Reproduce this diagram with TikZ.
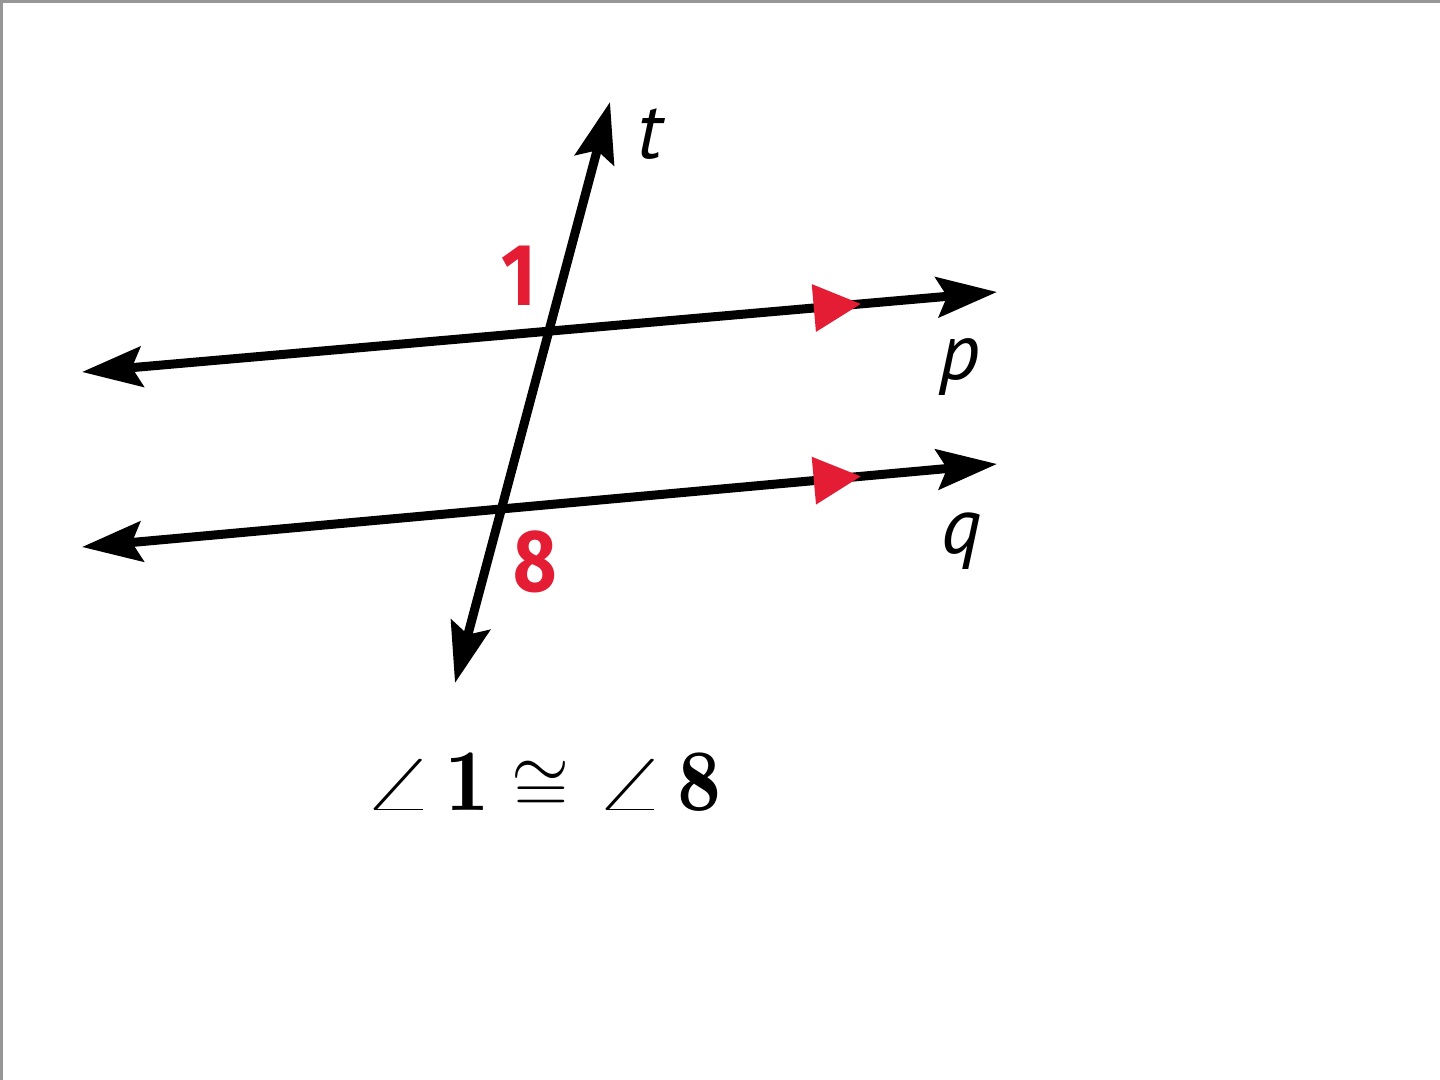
\documentclass[tikz,border=0pt]{standalone}
\usepackage{fontspec}
\usepackage{graphicx}
\usetikzlibrary{arrows.meta}
\newfontfamily\labfont{PT Sans}
\newfontfamily\numfont{Fira Sans}
\definecolor{myred}{RGB}{228,28,52}
\definecolor{frame}{RGB}{150,150,150}
\newcommand{\bigang}{\scalebox{1.95}[1.1]{$\angle$}}
\begin{document}
\begin{tikzpicture}[x=0.5pt,y=-0.5pt,
  lineof/.style={line width=4.5pt, black, {Stealth[length=30pt,width=20pt,inset=5pt]}-{Stealth[length=30pt,width=20pt,inset=5pt]}},
  redmark/.style={fill=myred},
  varlabel/.style={font=\labfont\itshape\fontsize{40}{40}\selectfont, inner sep=0pt},
  anglabel/.style={font=\numfont\bfseries\fontsize{44}{44}\selectfont, text=myred, inner sep=0pt, xscale=0.85},
  caption/.style={font=\fontsize{44}{44}\selectfont, inner sep=0pt}]
\useasboundingbox (0,0) rectangle (1440,1080);
\fill[white] (0,0) rectangle (1440,1080);
\draw[frame, line width=1.5pt] (1.5,1080) -- (1.5,1.5) -- (1440,1.5);
% lines
\coordinate (pL) at (82,372);
\coordinate (pR) at (997,292);
\coordinate (qL) at (82,547);
\coordinate (qR) at (997,464);
\coordinate (tB) at (455,683);
\coordinate (tT) at (610,102);
\draw[lineof] (pL) -- (pR);
\draw[lineof] (qL) -- (qR);
\draw[lineof] (tB) -- (tT);
% parallel marks
\path (pL) -- (pR) coordinate[pos=0.851] (pm);
\path (qL) -- (qR) coordinate[pos=0.851] (qm);
\fill[redmark, shift={(pm)}, rotate=5] (0,0) -- (-47,24) -- (-47,-24) -- cycle;
\fill[redmark, shift={(qm)}, rotate=5.2] (0,0) -- (-47,24) -- (-47,-24) -- cycle;
% labels
\node[varlabel] (lt) at (650,134) {t};
\node[varlabel, anchor=base] (lp) at (960,380) {p};
\node[varlabel, anchor=base] (lq) at (962,553) {q};
\node[anglabel] (l1) at (519,276) {1};
\node[anglabel] (l8) at (535,562) {8};
\node[caption, anchor=base] (cap) at (541,810) {\bigang\hspace{5pt}$\mathbf{1}$\hspace{11pt}\raisebox{-1pt}{\scalebox{1.5}{$\cong$}}\hspace{11pt}\bigang\hspace{5pt}$\mathbf{8}$};
\end{tikzpicture}
\end{document}
